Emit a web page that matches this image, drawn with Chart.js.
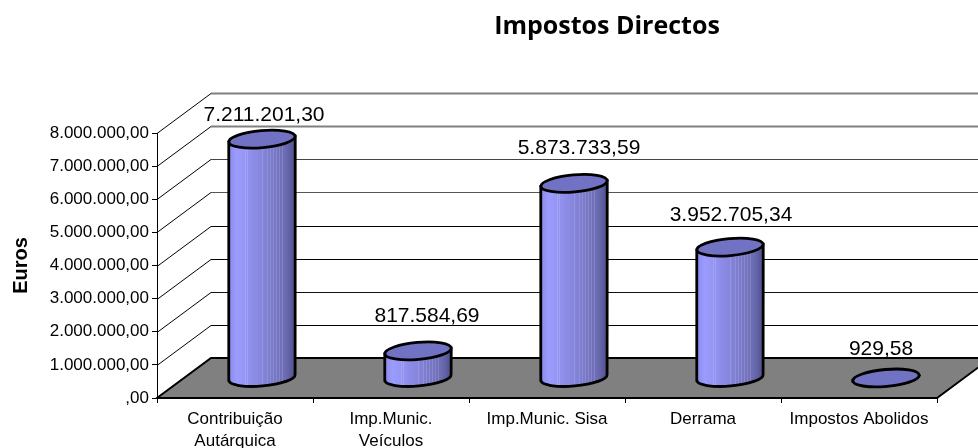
<!DOCTYPE html>
<html>
<head>
<meta charset="utf-8">
<title>Impostos Directos</title>
<script src="https://cdn.jsdelivr.net/npm/chart.js@4"></script>
<style>
  html, body { margin: 0; padding: 0; background: #fff; overflow: hidden; }
  canvas { display: block; }
</style>
</head>
<body>
<canvas id="grafico" width="978" height="448"></canvas>
<script>
'use strict';
// Dados
var categorias = [['Contribuição', 'Autárquica'], ['Imp.Munic.', 'Veículos'], 'Imp.Munic. Sisa', 'Derrama', 'Impostos Abolidos'];
var valores = [7211201.30, 817584.69, 5873733.59, 3952705.34, 929.58];
var rotulosValores = ['7.211.201,30', '817.584,69', '5.873.733,59', '3.952.705,34', '929,58'];
var rotulosEixoY = [',00', '1.000.000,00', '2.000.000,00', '3.000.000,00', '4.000.000,00', '5.000.000,00', '6.000.000,00', '7.000.000,00', '8.000.000,00'];

// Perspectiva do "3D" do Excel: deslocamento do fundo em relação à frente
var FUNDO_X = 54;
var FUNDO_Y = 40;
var CENTRO_TITULO = 607;
// Ajuste manual de cada rótulo em relação ao topo do cilindro
var AJUSTE_ROTULOS = [[2, 24], [9, 35], [5, 35], [1, 32], [-5, 29]];
var FAIXAS = [0.24, 0.28, 0.5, 0.58, 0.62, 0.66, 0.71, 0.76, 0.8];
// As linhas de cima aparecem mais claras no original (imagem reamostrada)
var COR_GRELHA = ['#000', '#000', '#111', '#000', '#000', '#555', '#444', '#808080', '#808080'];
var LARGURA_GRELHA = [1, 1, 1, 1, 1, 1, 1, 2, 2];

var fundoPlugin = {
  id: 'fundo',
  afterLayout: function(chart) {
    chart.titleBlock.left = CENTRO_TITULO - 120;
    chart.titleBlock.right = CENTRO_TITULO + 120;
  },
  beforeDatasetsDraw: function(chart) {
    var ctx = chart.ctx;
    var area = chart.chartArea;
    var y = chart.scales.y;
    ctx.save();
    // linhas de grelha: parede lateral e parede do fundo
    y.ticks.forEach(function(t, i) {
      var py = Math.round(y.getPixelForValue(t.value)) + 0.5;
      ctx.strokeStyle = '#000';
      ctx.lineWidth = 1;
      ctx.beginPath();
      ctx.moveTo(area.left, py);
      ctx.lineTo(area.left + FUNDO_X, py - FUNDO_Y);
      ctx.stroke();
      ctx.strokeStyle = COR_GRELHA[i];
      ctx.lineWidth = LARGURA_GRELHA[i];
      ctx.beginPath();
      ctx.moveTo(area.left + FUNDO_X, py - FUNDO_Y);
      ctx.lineTo(area.right + FUNDO_X, py - FUNDO_Y);
      ctx.stroke();
    });
    // chão cinzento
    var base = y.getPixelForValue(0);
    ctx.beginPath();
    ctx.moveTo(area.left, base);
    ctx.lineTo(area.right, base);
    ctx.lineTo(area.right + FUNDO_X, base - FUNDO_Y);
    ctx.lineTo(area.left + FUNDO_X, base - FUNDO_Y);
    ctx.closePath();
    ctx.fillStyle = '#808080';
    ctx.fill();
    ctx.strokeStyle = '#000';
    ctx.lineWidth = 2;
    ctx.stroke();
    ctx.restore();
  },
  afterDatasetsDraw: function(chart) {
    var ctx = chart.ctx;
    var barras = chart.getDatasetMeta(0).data;
    barras.forEach(function(barra, i) {
      var p = barra.getProps(['x', 'y', 'base', 'width'], true);
      var cx = p.x + FUNDO_X / 2;
      var topo = p.y - FUNDO_Y / 2;
      var fundo = p.base - FUNDO_Y / 2;
      desenhaCilindro(ctx, cx, topo, fundo, p.width / 2);
      ctx.save();
      ctx.font = '21px "Liberation Sans", Arial, sans-serif';
      ctx.fillStyle = '#000';
      ctx.textAlign = 'center';
      ctx.textBaseline = 'middle';
      ctx.fillText(rotulosValores[i], cx + AJUSTE_ROTULOS[i][0], topo - AJUSTE_ROTULOS[i][1]);
      ctx.restore();
    });
  }
};

function desenhaCilindro(ctx, cx, topo, fundo, rx) {
  var ry = 8.5;
  var rot = -5 * Math.PI / 180;
  var k = rx * Math.sin(-rot);
  function corpo() {
    ctx.beginPath();
    ctx.moveTo(cx - rx, topo + k);
    ctx.lineTo(cx - rx, fundo + k);
    ctx.ellipse(cx, fundo, rx, ry, rot, Math.PI, 0, true);
    ctx.lineTo(cx + rx, topo - k);
    ctx.closePath();
  }
  ctx.save();
  var grad = ctx.createLinearGradient(cx - rx, 0, cx + rx, 0);
  grad.addColorStop(0, '#8a8ae8');
  grad.addColorStop(0.12, '#9c9cff');
  grad.addColorStop(0.5, '#8585dc');
  grad.addColorStop(0.85, '#6c6cb4');
  grad.addColorStop(1, '#50508c');
  corpo();
  ctx.fillStyle = grad;
  ctx.fill();
  // faixas claras verticais
  ctx.save();
  ctx.clip();
  ctx.strokeStyle = 'rgba(255,255,255,0.14)';
  ctx.lineWidth = 1;
  FAIXAS.forEach(function(f) {
    var fx = Math.round(cx - rx + f * 2 * rx) + 0.5;
    ctx.beginPath();
    ctx.moveTo(fx, topo - ry - 4);
    ctx.lineTo(fx, fundo + ry + 4);
    ctx.stroke();
  });
  ctx.restore();
  ctx.strokeStyle = '#000';
  ctx.lineWidth = 2.8;
  corpo();
  ctx.stroke();
  // tampa
  ctx.beginPath();
  ctx.ellipse(cx, topo, rx, ry, rot, 0, Math.PI * 2);
  ctx.fillStyle = '#7272c4';
  ctx.fill();
  ctx.stroke();
  ctx.restore();
}

new Chart(document.getElementById('grafico'), {
  type: 'bar',
  data: {
    labels: categorias,
    datasets: [{
      data: valores,
      backgroundColor: 'transparent',
      borderWidth: 0,
      barPercentage: 1,
      categoryPercentage: 0.426
    }]
  },
  plugins: [fundoPlugin],
  options: {
    responsive: false,
    animation: false,
    layout: { padding: { left: 0, right: 41, top: 0, bottom: 0 } },
    plugins: {
      legend: { display: false },
      tooltip: { enabled: false },
      title: {
        display: true,
        text: 'Impostos Directos',
        color: '#000',
        align: 'center',
        font: { family: '"Open Sans"', size: 25, weight: 'bold', lineHeight: 1.2 },
        padding: { top: 12, bottom: 91 }
      }
    },
    scales: {
      x: {
        afterFit: function(scale) { scale.height = 50; },
        border: { display: false },
        grid: { offset: true, drawOnChartArea: false, drawTicks: true, tickLength: 5, tickColor: '#000' },
        ticks: {
          color: '#000',
          padding: 6,
          maxRotation: 0,
          autoSkip: false,
          font: { family: '"Liberation Sans"', size: 17, lineHeight: 1.27 }
        }
      },
      y: {
        min: 0,
        max: 8000000,
        afterFit: function(scale) { scale.width = 157; },
        border: { display: true, color: '#000', width: 1 },
        grid: { drawOnChartArea: false, drawTicks: true, tickLength: 5, tickColor: '#000' },
        ticks: {
          stepSize: 1000000,
          color: '#000',
          padding: 3,
          font: { family: '"Liberation Sans"', size: 17 },
          callback: function(valor, indice) { return rotulosEixoY[indice]; }
        },
        title: {
          display: true,
          text: 'Euros',
          color: '#000',
          font: { family: '"Liberation Sans"', size: 20, weight: 'bold', lineHeight: 1.2 },
          padding: { top: 9, bottom: 0 }
        }
      }
    }
  }
});
</script>
</body>
</html>
